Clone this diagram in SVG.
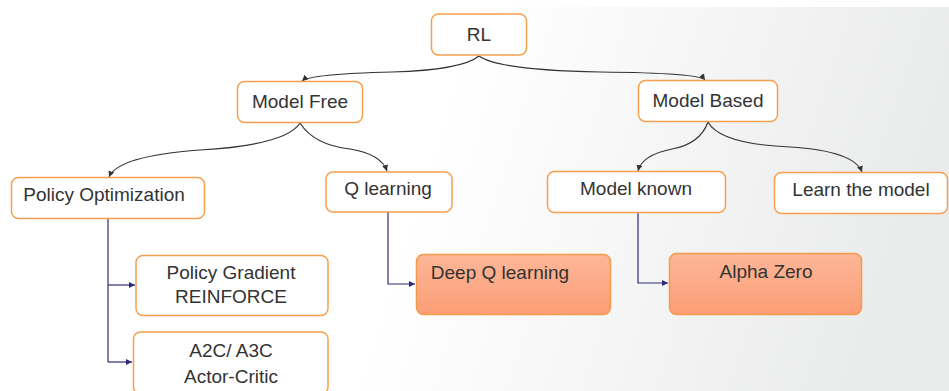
<svg xmlns="http://www.w3.org/2000/svg" width="949" height="391" viewBox="0 0 949 391">
  <style>
    .box { fill: #ffffff; stroke: #f5a04f; stroke-width: 1.5; }
    .hot { fill: url(#hotFill); stroke: #f39a4c; stroke-width: 1.5; }
    .lbl { font-family: "Liberation Sans", Arial, sans-serif; font-size: 19px; fill: #333333; text-anchor: middle; }
    .curve { fill: none; stroke: #333333; stroke-width: 1.2; marker-end: url(#arrowDark); }
    .elbow { fill: none; stroke: #2e2a78; stroke-width: 1.2; }
    .elbowEnd { fill: none; stroke: #2e2a78; stroke-width: 1.2; marker-end: url(#arrowBlue); }
  </style>
  <defs>
    <linearGradient id="bg" gradientUnits="userSpaceOnUse" x1="480" y1="0" x2="949" y2="150">
      <stop offset="0" stop-color="#ffffff"/>
      <stop offset="1" stop-color="#e9eaea"/>
    </linearGradient>
    <linearGradient id="hotFill" x1="0" y1="0" x2="0" y2="1">
      <stop offset="0" stop-color="#fdb698"/>
      <stop offset="1" stop-color="#fb9e76"/>
    </linearGradient>
    <marker id="arrowDark" markerUnits="userSpaceOnUse" markerWidth="8" markerHeight="8" refX="6" refY="3" orient="auto">
      <path d="M0,0 L6,3 L0,6 Z" fill="#333333"/>
    </marker>
    <marker id="arrowBlue" markerUnits="userSpaceOnUse" markerWidth="8" markerHeight="8" refX="6" refY="3" orient="auto">
      <path d="M0,0 L6,3 L0,6 Z" fill="#2e2a78"/>
    </marker>
  </defs>

  <!-- background -->
  <rect x="0" y="0" width="949" height="391" fill="#ffffff"/>
  <rect x="0" y="7" width="949" height="384" fill="url(#bg)"/>

  <!-- connectors -->
  <g id="connectors">
    <path class="curve" d="M479,56 Q462,70 392,72 Q310,74 302,81"/>
    <path class="curve" d="M479,56 Q498,70 600,72 Q700,73 705,80"/>
    <path class="curve" d="M300,123 Q286,145 200,150 Q118,156 109,177"/>
    <path class="curve" d="M300,123 Q314,145 350,149 Q381,154 387,171"/>
    <path class="curve" d="M708,122 Q700,144 672,149 Q642,155 638,171"/>
    <path class="curve" d="M708,122 Q720,144 790,147 Q854,151 862,172"/>
    <path class="elbow" d="M108,219 V362"/>
    <path class="elbowEnd" d="M108,285 H135"/>
    <path class="elbowEnd" d="M108,362 H132"/>
    <path class="elbowEnd" d="M388,212 V284 H415"/>
    <path class="elbowEnd" d="M638,212 V283 H668"/>
  </g>

  <!-- nodes -->
  <g id="node-rl">
    <rect class="box" x="431.5" y="14" width="95" height="41" rx="7"/>
    <text class="lbl" x="479" y="41">RL</text>
  </g>
  <g id="node-model-free">
    <rect class="box" x="237.5" y="81.5" width="125" height="41" rx="7"/>
    <text class="lbl" x="300" y="108">Model Free</text>
  </g>
  <g id="node-model-based">
    <rect class="box" x="638.5" y="80.5" width="139" height="41" rx="7"/>
    <text class="lbl" x="708" y="107">Model Based</text>
  </g>
  <g id="node-policy-opt">
    <rect class="box" x="11.5" y="177.5" width="193" height="41" rx="7"/>
    <text class="lbl" x="104" y="201">Policy Optimization</text>
  </g>
  <g id="node-q-learning">
    <rect class="box" x="326" y="172" width="126" height="40" rx="7"/>
    <text class="lbl" x="388" y="195">Q learning</text>
  </g>
  <g id="node-model-known">
    <rect class="box" x="547.5" y="171.5" width="178" height="41" rx="7"/>
    <text class="lbl" x="636" y="195">Model known</text>
  </g>
  <g id="node-learn-model">
    <rect class="box" x="774.5" y="172.5" width="173" height="41" rx="7"/>
    <text class="lbl" x="861" y="196">Learn the model</text>
  </g>
  <g id="node-policy-gradient">
    <rect class="box" x="136" y="255.5" width="192" height="60" rx="7"/>
    <text class="lbl" x="231" y="279">Policy Gradient</text>
    <text class="lbl" x="231" y="303">REINFORCE</text>
  </g>
  <g id="node-actor-critic">
    <rect class="box" x="133.5" y="332" width="194.5" height="62" rx="7"/>
    <text class="lbl" x="231" y="357">A2C/ A3C</text>
    <text class="lbl" x="231" y="383">Actor-Critic</text>
  </g>
  <g id="node-deep-q">
    <rect class="hot" x="416.5" y="254.5" width="194" height="60" rx="7"/>
    <text class="lbl" x="500" y="279">Deep Q learning</text>
  </g>
  <g id="node-alpha-zero">
    <rect class="hot" x="669.5" y="253.5" width="192" height="61" rx="7"/>
    <text class="lbl" x="766" y="278">Alpha Zero</text>
  </g>
</svg>
